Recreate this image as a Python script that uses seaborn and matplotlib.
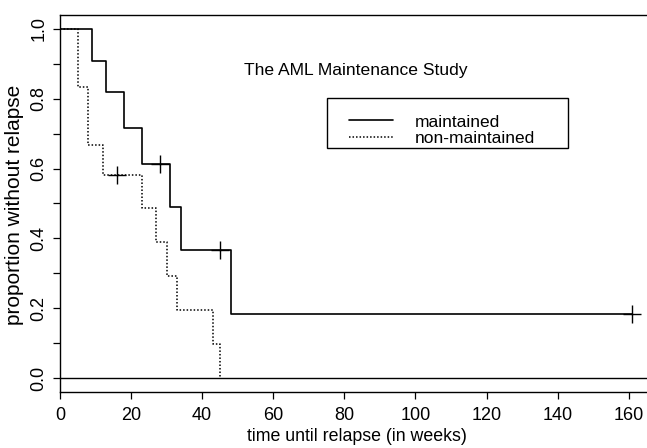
import numpy as np
import pandas as pd
import seaborn as sns
import matplotlib
matplotlib.use("Agg")
import matplotlib.pyplot as plt
from matplotlib.patches import Rectangle

# Kaplan-Meier estimates
maint_time = [0, 9, 13, 18, 23, 31, 34, 48, 161]
maint_surv = [1.0, 0.909, 0.818, 0.716, 0.614, 0.491, 0.368, 0.184, 0.184]
nonmaint_time = [0, 5, 8, 12, 23, 27, 30, 33, 43, 45]
nonmaint_surv = [1.0, 0.833, 0.667, 0.583, 0.486, 0.389, 0.292, 0.194, 0.097, 0.0]
maint_cens_time = [28, 45, 161]
maint_cens_surv = [0.614, 0.368, 0.184]
nonmaint_cens_time = [16]
nonmaint_cens_surv = [0.583]
group_labels = ["maintained", "non-maintained"]
x_ticks = [0, 20, 40, 60, 80, 100, 120, 140, 160]

sns.set_style("white")
plt.rcParams["font.family"] = ["Liberation Sans", "DejaVu Sans"]
plt.rcParams.update({"text.color": "black", "axes.labelcolor": "black",
                     "xtick.color": "black", "ytick.color": "black"})

tick_fs = 13
xlab_fs = 12.8
leg_fs = 12.5

W, H = 647, 448
fig = plt.figure(figsize=(W / 100, H / 100), dpi=100)
left, right, top, bottom = 60, 655, 15, 392
ax = fig.add_axes([left / W, 1 - bottom / H, (right - left) / W, (bottom - top) / H])

df_m = pd.DataFrame({"time": maint_time, "surv": maint_surv})
df_n = pd.DataFrame({"time": nonmaint_time, "surv": nonmaint_surv})

sns.lineplot(data=df_m, x="time", y="surv", ax=ax, estimator=None, sort=False,
             drawstyle="steps-post", color="black", lw=1.2, label=group_labels[0])
sns.lineplot(data=df_n, x="time", y="surv", ax=ax, estimator=None, sort=False,
             drawstyle="steps-post", color="black", lw=1.1,
             linestyle=(0, (1, 1.3)), label=group_labels[1])

ax.plot(maint_cens_time, maint_cens_surv, ls="none", marker="+", ms=13,
        mew=1.0, color="black")
ax.plot(nonmaint_cens_time, nonmaint_cens_surv, ls="none", marker="+", ms=13,
        mew=1.0, color="black")

ax.axhline(0, color="black", lw=1.0)

ax.set_xlim(0, 167.4)
ax.set_ylim(-0.04, 1.04)
ax.set_xticks(x_ticks)
ax.set_xticklabels([str(v) for v in x_ticks], fontsize=tick_fs)
yt = np.round(np.arange(0, 1.01, 0.1), 1)
ax.set_yticks(yt)
ax.set_yticklabels([f"{v:.1f}" if abs(v * 10) % 2 == 0 else "" for v in yt],
                   rotation=90, va="center", fontsize=tick_fs)
ax.tick_params(axis="both", direction="out", length=5, width=0.9, color="black",
               labelcolor="black", left=True, bottom=True)
ax.tick_params(axis="x", pad=6)
ax.tick_params(axis="y", pad=4)

for s in ["left", "bottom", "top"]:
    ax.spines[s].set_visible(True)
    ax.spines[s].set_color("black")
    ax.spines[s].set_linewidth(1.0)
ax.spines["right"].set_visible(False)

ax.set_xlabel("")
ax.set_ylabel("")
fig.text(357 / W, 1 - 436 / H, "time until relapse (in weeks)", ha="center",
         va="center", fontsize=xlab_fs, color="black")
fig.text(15 / W, 1 - 205 / H, "proportion without relapse", ha="center",
         va="center", rotation=90, fontsize=15, color="black")
fig.text(356 / W, 1 - 70 / H, "The AML Maintenance Study", ha="center",
         va="center", fontsize=12.6, color="black")

handles, labels = ax.get_legend_handles_labels()
leg = ax.legend(handles, labels, loc="center left",
                bbox_to_anchor=(349 / W, 1 - 130 / H), bbox_transform=fig.transFigure,
                frameon=False, prop={"size": leg_fs}, labelcolor="black",
                handlelength=44 / (leg_fs * 100 / 72), handletextpad=22 / (leg_fs * 100 / 72),
                borderpad=0, labelspacing=0.05, borderaxespad=0)
fig.patches.append(Rectangle((327 / W, 1 - 148 / H), (568 - 327) / W, 50 / H,
                             transform=fig.transFigure, fill=False,
                             edgecolor="black", linewidth=1.0))

fig.savefig("out.png", dpi=100)
